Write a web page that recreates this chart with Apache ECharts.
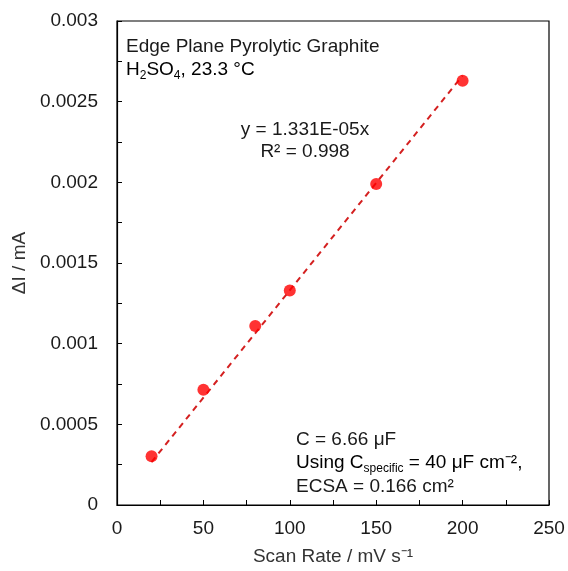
<!DOCTYPE html>
<html>
<head>
<meta charset="utf-8">
<script src="https://cdn.jsdelivr.net/npm/echarts@6/dist/echarts.min.js"></script>
<style>html,body{margin:0;padding:0;background:#fff}#c{width:568px;height:571px}</style>
</head>
<body>
<div id="c"></div>
<script>
var scanRates = [20, 50, 80, 100, 150, 200];
var deltaI = [0.000302, 0.000714, 0.00111, 0.00133, 0.00199, 0.00263];
var trendX = [20, 200];
var trendY = [0.0002662, 0.002662];
var xTicks = [0, 50, 100, 150, 200, 250];
var yTicks = [0, 0.0005, 0.001, 0.0015, 0.002, 0.0025, 0.003];

var FONT = '"Liberation Sans", Arial, sans-serif';
var FS = 19;
var TXT = '#1a1a1a';
var chart = echarts.init(document.getElementById('c'), null, {renderer: 'canvas'});
var pts = scanRates.map(function (x, i) { return [x, deltaI[i]]; });
var trend = trendX.map(function (x, i) { return [x, trendY[i]]; });

var richStyles = {
  n: {fontFamily: FONT, fontSize: FS, color: TXT, lineHeight: 24},
  s: {fontFamily: FONT, fontSize: 12, color: TXT, verticalAlign: 'bottom', padding: [9, 0, 0, 0], lineHeight: 24}
};

chart.setOption({
  animation: false,
  backgroundColor: '#fff',
  grid: {left: 117, right: 19, top: 21, bottom: 63, show: true, borderColor: '#000', borderWidth: 1.2, backgroundColor: 'transparent'},
  xAxis: {
    type: 'value', min: xTicks[0], max: xTicks[xTicks.length - 1], interval: 50,
    name: 'Scan Rate / mV s\u207B\u00B9', nameLocation: 'middle', nameGap: 42,
    nameTextStyle: {fontFamily: FONT, fontSize: FS, color: '#333'},
    axisLine: {lineStyle: {color: '#000', width: 1.2}},
    axisTick: {inside: true, length: 5, lineStyle: {color: '#000'}},
    minorTick: {show: true, splitNumber: 2, length: 5, lineStyle: {color: '#000'}},
    splitLine: {show: false},
    axisLabel: {fontFamily: FONT, fontSize: FS, color: TXT, margin: 14}
  },
  yAxis: {
    type: 'value', min: yTicks[0], max: yTicks[yTicks.length - 1], interval: 0.0005,
    name: '\u0394I / mA', nameLocation: 'middle', nameGap: 87,
    nameTextStyle: {fontFamily: FONT, fontSize: FS, color: '#333'},
    axisLine: {show: true, lineStyle: {color: '#000', width: 1.2}},
    axisTick: {show: true, inside: true, length: 5, lineStyle: {color: '#000'}},
    minorTick: {show: true, splitNumber: 2, length: 5, lineStyle: {color: '#000'}},
    splitLine: {show: false},
    axisLabel: {fontFamily: FONT, fontSize: FS, color: TXT, margin: 19,
      formatter: function (v) { return String(+v.toFixed(4)); }}
  },
  series: [
    {type: 'line', data: trend, symbol: 'none', z: 2,
     lineStyle: {color: '#D42020', width: 2, type: [6, 5]}},
    {type: 'scatter', data: pts, symbol: 'circle', symbolSize: 12, z: 3,
     itemStyle: {color: '#FF0000'}}
  ],
  graphic: [
    {type: 'text', x: 126, y: 47, style: {
      text: 'Edge Plane Pyrolytic Graphite', font: FS + 'px ' + FONT, fill: TXT, verticalAlign: 'middle'}},
    {type: 'text', x: 126, y: 70, style: {rich: richStyles, verticalAlign: 'middle',
      text: '{n|H}{s|2}{n|SO}{s|4}{n|, 23.3 \u00B0C}'}},
    {type: 'text', x: 305, y: 130, style: {
      text: 'y = 1.331E-05x', font: FS + 'px ' + FONT, fill: TXT, align: 'center', verticalAlign: 'middle'}},
    {type: 'text', x: 305, y: 152, style: {
      text: 'R\u00B2 = 0.998', font: FS + 'px ' + FONT, fill: TXT, align: 'center', verticalAlign: 'middle'}},
    {type: 'text', x: 296, y: 440, style: {
      text: 'C = 6.66 \u03BCF', font: FS + 'px ' + FONT, fill: TXT, verticalAlign: 'middle'}},
    {type: 'text', x: 296, y: 463, style: {rich: richStyles, verticalAlign: 'middle',
      text: '{n|Using C}{s|specific}{n| = 40 \u03BCF cm\u207B\u00B2,}'}},
    {type: 'text', x: 296, y: 487, style: {
      text: 'ECSA = 0.166 cm\u00B2', font: FS + 'px ' + FONT, fill: TXT, verticalAlign: 'middle'}}
  ]
});
</script>
</body>
</html>
